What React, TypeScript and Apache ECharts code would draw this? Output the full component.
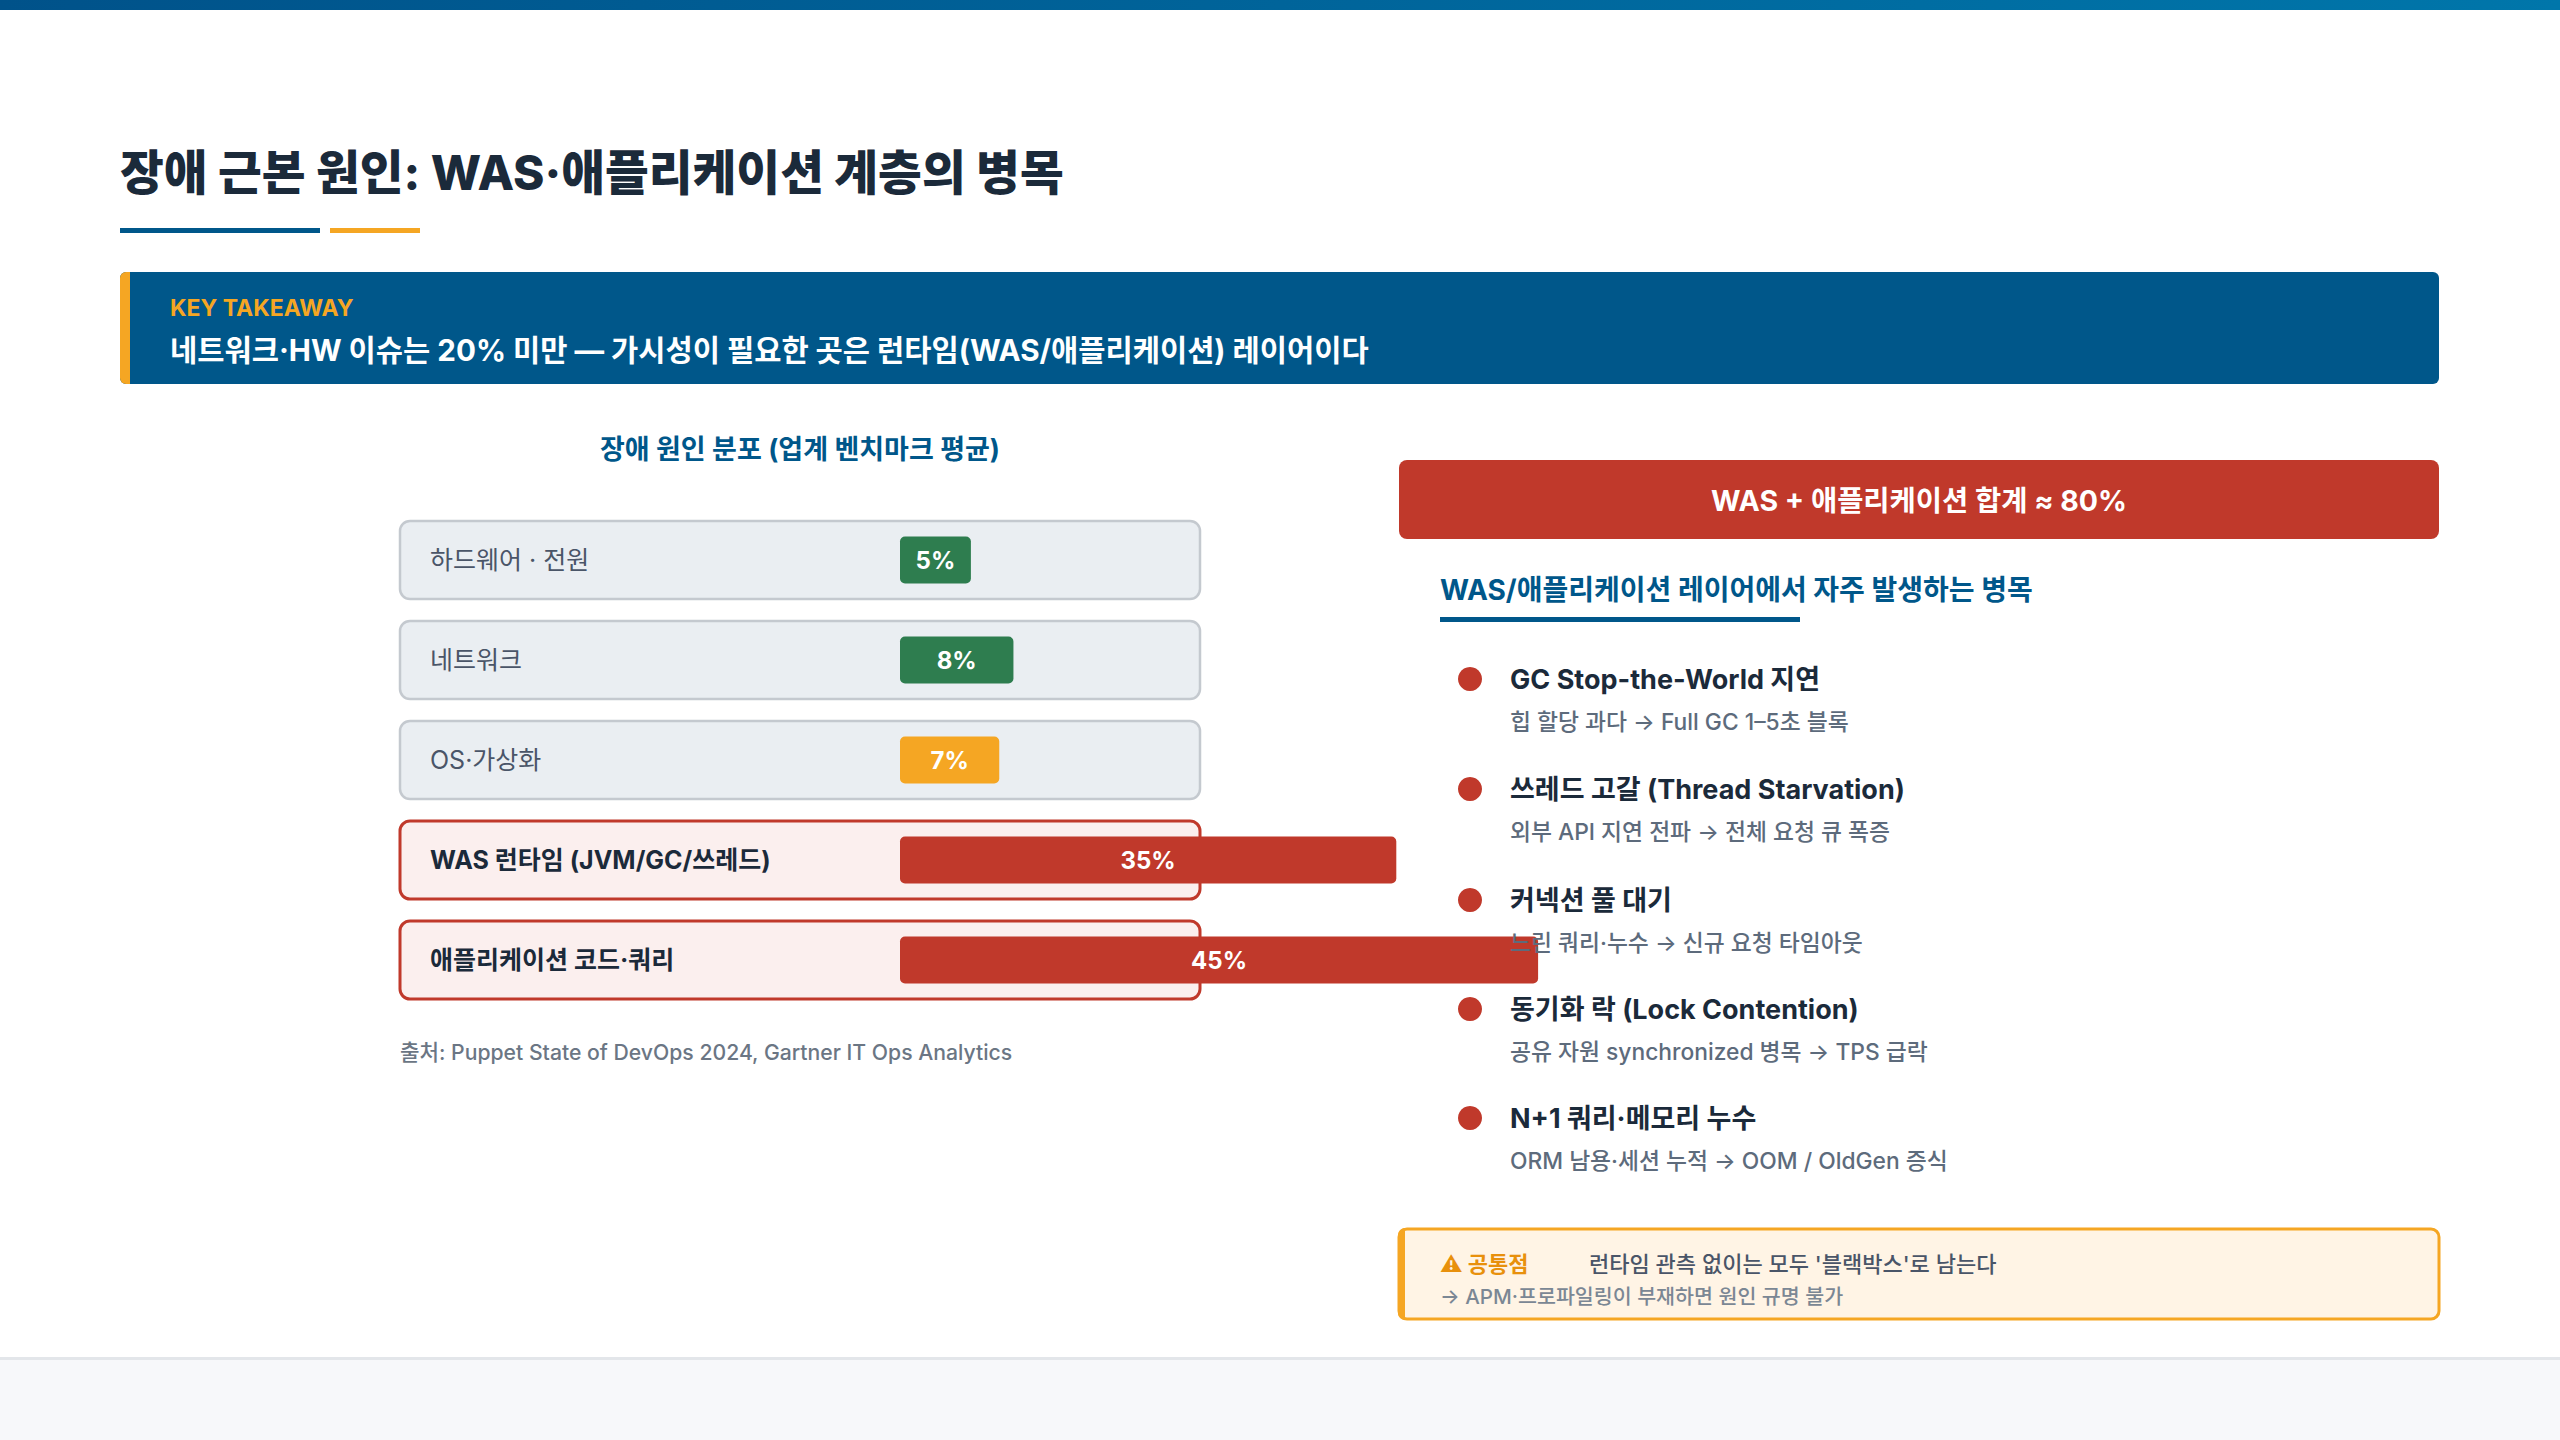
import * as echarts from "echarts";
import { useEffect, useRef } from "react";

const FONT = "Inter, 'Noto Sans CJK KR', sans-serif";

const categories = [
  "하드웨어 · 전원",
  "네트워크",
  "OS·가상화",
  "WAS 런타임 (JVM/GC/쓰레드)",
  "애플리케이션 코드·쿼리",
];
const shares = [5, 8, 7, 35, 45];
const barColors = ["#2e7d4f", "#2e7d4f", "#f5a623", "#c0392b", "#c0392b"];
const highlighted = [false, false, false, true, true];

const bottleneckTitles = [
  "GC Stop-the-World 지연",
  "쓰레드 고갈 (Thread Starvation)",
  "커넥션 풀 대기",
  "동기화 락 (Lock Contention)",
  "N+1 쿼리·메모리 누수",
];
const bottleneckDetails = [
  "힙 할당 과다 → Full GC 1–5초 블록",
  "외부 API 지연 전파 → 전체 요청 큐 폭증",
  "느린 쿼리·누수 → 신규 요청 타임아웃",
  "공유 자원 synchronized 병목 → TPS 급락",
  "ORM 남용·세션 누적 → OOM / OldGen 증식",
];

const text = (
  x: number,
  y: number,
  str: string,
  size: number,
  weight: number | string,
  fill: string,
  align = "left",
) => ({
  type: "text",
  x,
  y,
  z: 10,
  style: {
    text: str,
    fill,
    font: `${weight} ${size}px ${FONT}`,
    textAlign: align,
    textVerticalAlign: "middle",
  },
});

const App = () => {
  const chartRef = useRef<HTMLDivElement>(null);

  useEffect(() => {
    if (!chartRef.current) return;
    const chart = echarts.init(chartRef.current, null, { renderer: "svg" });

    const itemTop = [679, 789, 900, 1009, 1118];

    const graphic: any[] = [
      // top gradient bar
      {
        type: "rect",
        shape: { x: 0, y: 0, width: 2560, height: 10 },
        style: {
          fill: new echarts.graphic.LinearGradient(0, 0, 1, 0, [
            { offset: 0, color: "#00528a" },
            { offset: 1, color: "#0076aa" },
          ]),
        },
      },
      text(120, 172, "장애 근본 원인: WAS·애플리케이션 계층의 병목", 47.6, 800, "#1b2a3a"),
      { type: "rect", shape: { x: 120, y: 228, width: 200, height: 5 }, style: { fill: "#00578a" } },
      { type: "rect", shape: { x: 330, y: 228, width: 90, height: 5 }, style: { fill: "#f5a623" } },
      // key takeaway box
      {
        type: "rect",
        shape: { x: 120, y: 272, width: 2319, height: 112, r: 6 },
        style: { fill: "#00578a" },
      },
      {
        type: "rect",
        shape: { x: 120, y: 272, width: 10, height: 112, r: [6, 0, 0, 6] },
        style: { fill: "#f5a623" },
      },
      text(170, 308, "KEY TAKEAWAY", 23, 700, "#f5a623"),
      text(
        170,
        350,
        "네트워크·HW 이슈는 20% 미만 — 가시성이 필요한 곳은 런타임(WAS/애플리케이션) 레이어이다",
        29.6,
        700,
        "#ffffff",
      ),
      // chart heading and source
      text(800, 449, "장애 원인 분포 (업계 벤치마크 평균)", 27, 700, "#00578a", "center"),
      text(400, 1052, "출처: Puppet State of DevOps 2024, Gartner IT Ops Analytics", 21.2, 500, "#6b7684"),
      // right column banner
      {
        type: "rect",
        shape: { x: 1399, y: 460, width: 1040, height: 79, r: 8 },
        style: { fill: "#c0392b" },
      },
      text(1919, 500, "WAS + 애플리케이션 합계 ≈ 80%", 28.5, 700, "#ffffff", "center"),
      text(1440, 590, "WAS/애플리케이션 레이어에서 자주 발생하는 병목", 28, 700, "#00578a"),
      { type: "rect", shape: { x: 1440, y: 617, width: 360, height: 5 }, style: { fill: "#00578a" } },
      // note box
      {
        type: "rect",
        shape: { x: 1399, y: 1229, width: 1040, height: 90, r: 8 },
        style: { fill: "#fff4e5", stroke: "#f5a623", lineWidth: 3 },
      },
      {
        type: "rect",
        shape: { x: 1398, y: 1228, width: 7, height: 92, r: [8, 0, 0, 8] },
        style: { fill: "#f5a623" },
      },
      text(1440, 1264, "⚠ 공통점", 22, 700, "#e8900c"),
      text(1589, 1264, "런타임 관측 없이는 모두 '블랙박스'로 남는다", 22, 500, "#4a5568"),
      text(1440, 1296, "→ APM·프로파일링이 부재하면 원인 규명 불가", 20.6, 500, "#7b8794"),
      // footer
      { type: "rect", shape: { x: 0, y: 1358, width: 2560, height: 82 }, style: { fill: "#f7f8fa" } },
      { type: "rect", shape: { x: 0, y: 1357, width: 2560, height: 3 }, style: { fill: "#e3e6ea" } },
    ];

    bottleneckTitles.forEach((t, i) => {
      graphic.push({
        type: "circle",
        z: 10,
        shape: { cx: 1470, cy: itemTop[i], r: 12 },
        style: { fill: "#c0392b" },
      });
      graphic.push(text(1510, itemTop[i], t, 27, 700, "#1b2a3a"));
      graphic.push(text(1510, itemTop[i] + 42, bottleneckDetails[i], 22.8, 500, "#5d6b7c"));
    });

    chart.setOption({
      animation: false,
      backgroundColor: "#ffffff",
      textStyle: { fontFamily: FONT },
      graphic,
      grid: {
        left: 900,
        top: 510,
        width: 1418,
        height: 500,
        containLabel: false,
        outerBoundsMode: "none",
      },
      xAxis: {
        type: "value",
        min: 0,
        max: 100,
        show: false,
      },
      yAxis: {
        type: "category",
        data: categories,
        inverse: true,
        z: 5,
        axisLine: { show: false },
        axisTick: { show: false },
        splitLine: { show: false },
        axisLabel: {
          margin: 470,
          align: "left",
          formatter: (v: string, i: number) => (highlighted[i] ? `{b|${v}}` : `{n|${v}}`),
          rich: {
            n: { fontSize: 25, fontWeight: 400, color: "#4a5568", fontFamily: FONT },
            b: { fontSize: 25, fontWeight: 700, color: "#1b2a3a", fontFamily: FONT },
          },
        },
      },
      series: [
        {
          type: "custom",
          z: 1,
          clip: false,
          silent: true,
          data: categories.map((_, i) => [0, i]),
          encode: { x: 0, y: 1 },
          renderItem: (params: any, api: any) => {
            const i = params.dataIndex;
            const y = api.coord([0, i])[1];
            const h = api.size([0, 1])[1] * 0.78;
            return {
              type: "rect",
              shape: { x: 400, y: y - h / 2, width: 800, height: h, r: 10 },
              style: highlighted[i]
                ? { fill: "#fbefee", stroke: "#c0392b", lineWidth: 3 }
                : { fill: "#eaeef2", stroke: "#c4c9cf", lineWidth: 2.5 },
            };
          },
        },
        {
          type: "bar",
          z: 2,
          barWidth: 47,
          data: shares.map((v, i) => ({ value: v, itemStyle: { color: barColors[i] } })),
          itemStyle: { borderRadius: 5 },
          label: {
            show: true,
            position: "inside",
            formatter: "{c}%",
            color: "#ffffff",
            fontSize: 24,
            fontWeight: 700,
            fontFamily: FONT,
          },
        },
      ],
    });

    return () => chart.dispose();
  }, []);

  return (
    <div
      ref={chartRef}
      style={{ position: "fixed", left: 0, top: 0, width: "2560px", height: "1440px" }}
    />
  );
};

export default App;
